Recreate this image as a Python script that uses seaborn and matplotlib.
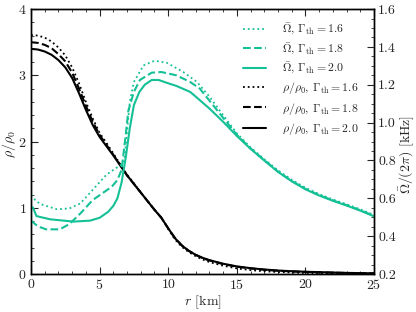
import numpy as np
import pandas as pd
import matplotlib
matplotlib.use("Agg")
import matplotlib.pyplot as plt
from matplotlib.ticker import MultipleLocator
import seaborn as sns

# ---------------- data ----------------
# density profiles rho/rho0 (left axis)
r_rho = [0, 0.5, 1, 1.5, 2, 2.5, 3, 3.5, 4, 4.5, 5, 5.5, 6, 6.5, 7, 7.5, 8, 8.5, 9,
         9.5, 10, 10.5, 11, 11.5, 12, 12.5, 13, 14, 15, 16, 17, 18, 19, 20, 21, 22,
         23, 24, 25]
rho_20 = [3.40, 3.39, 3.36, 3.31, 3.23, 3.12, 2.96, 2.73, 2.48, 2.25, 2.07, 1.93,
          1.79, 1.64, 1.49, 1.36, 1.23, 1.10, 0.97, 0.85, 0.69, 0.54, 0.43, 0.35,
          0.29, 0.245, 0.21, 0.155, 0.115, 0.088, 0.068, 0.052, 0.042, 0.034,
          0.028, 0.022, 0.017, 0.013, 0.010]
rho_18 = [3.50, 3.49, 3.46, 3.41, 3.32, 3.21, 3.04, 2.80, 2.54, 2.30, 2.10, 1.95,
          1.80, 1.65, 1.49, 1.36, 1.23, 1.10, 0.97, 0.85, 0.69, 0.54, 0.43, 0.35,
          0.29, 0.24, 0.205, 0.15, 0.11, 0.084, 0.064, 0.049, 0.039, 0.031,
          0.025, 0.02, 0.015, 0.012, 0.009]
rho_16 = [3.61, 3.60, 3.57, 3.51, 3.42, 3.30, 3.12, 2.88, 2.60, 2.35, 2.13, 1.98,
          1.82, 1.66, 1.50, 1.37, 1.23, 1.10, 0.97, 0.85, 0.68, 0.52, 0.41, 0.33,
          0.27, 0.22, 0.18, 0.125, 0.085, 0.058, 0.042, 0.03, 0.022, 0.016,
          0.012, 0.01, 0.008, 0.007, 0.006]

# angular velocity profiles Omega/(2 pi) in kHz (right axis)
r_om20 = [0, 0.15, 0.4, 1.4, 3.1, 4.3, 5.0, 5.63, 6.0, 6.3, 6.6, 6.9, 7.2, 7.5, 7.9,
          8.3, 8.8, 9.3, 10, 10.6, 11.6, 12, 13, 14, 15, 16, 17, 18, 19, 20, 21,
          22, 23, 24, 25]
om_20 = [0.557, 0.55, 0.506, 0.489, 0.477, 0.482, 0.497, 0.529, 0.56, 0.60, 0.683,
         0.8125, 0.97, 1.0925, 1.1625, 1.201, 1.2255, 1.2255, 1.208, 1.194, 1.1625,
         1.138, 1.075, 1.005, 0.93, 0.862, 0.80, 0.74, 0.69, 0.648, 0.615,
         0.587, 0.562, 0.535, 0.505]
r_om18 = [0, 0.5, 1.1, 2.1, 2.8, 3.6, 4.5, 5.9, 6.3, 6.6, 6.85, 7.1, 7.5, 7.94, 8.8,
          9.5, 10.6, 11.6, 12.3, 13, 14, 15, 16, 17, 18, 19, 20, 21, 22, 23, 24, 25]
om_18 = [0.482, 0.452, 0.436, 0.436, 0.464, 0.52, 0.591, 0.662, 0.697, 0.75, 0.90,
         1.0645, 1.1625, 1.2255, 1.264, 1.2675, 1.25, 1.215, 1.18, 1.117, 1.026,
         0.936, 0.864, 0.802, 0.742, 0.692, 0.65, 0.617, 0.589, 0.564, 0.537, 0.507]
r_om16 = [0, 0.3, 0.66, 1.9, 2.8, 3.6, 4.8, 5.5, 6.0, 6.5, 6.8, 7.0, 7.2, 7.5, 8.2,
          9.0, 9.9, 11.1, 12.1, 13, 14, 15, 16, 17, 18, 19, 20, 21, 22, 23, 24, 25]
om_16 = [0.6165, 0.592, 0.57, 0.542, 0.5465, 0.573, 0.669, 0.725, 0.75, 0.774,
         0.795, 0.9525, 1.11, 1.215, 1.3025, 1.327, 1.3165, 1.2675, 1.215, 1.138,
         1.04, 0.944, 0.869, 0.807, 0.748, 0.698, 0.656, 0.622, 0.594, 0.569,
         0.542, 0.512]

gammas = ["1.6", "1.8", "2.0"]
xticks = [0, 5, 10, 15, 20, 25]
yticks_left = [0, 1, 2, 3, 4]
yticks_right = [0.2, 0.4, 0.6, 0.8, 1.0, 1.2, 1.4, 1.6]

# ---------------- style ----------------
sns.set_style("ticks")
plt.rcParams["font.family"] = ["cmr10", "DejaVu Serif"]
plt.rcParams["mathtext.fontset"] = "cm"
plt.rcParams["axes.formatter.use_mathtext"] = True
plt.rcParams["axes.unicode_minus"] = False

green = "#15c096"

fig = plt.figure(figsize=(4.16, 3.12), dpi=100)
ax = fig.add_axes([0.0745, 0.1218, 0.8245, 0.849])
ax2 = ax.twinx()

om_sets = [(r_om16, om_16, ":"), (r_om18, om_18, "--"), (r_om20, om_20, "-")]
rho_sets = [(r_rho, rho_16, ":"), (r_rho, rho_18, "--"), (r_rho, rho_20, "-")]

handles = []
labels = []
for (rr, vv, ls), g in zip(om_sets, gammas):
    df = pd.DataFrame({"r": rr, "v": vv})
    sns.lineplot(data=df, x="r", y="v", ax=ax2, color=green, linestyle=ls,
                 lw=1.3 if ls == ":" else 1.5, sort=False, legend=False)
    handles.append(ax2.lines[-1])
    labels.append(r"$\bar{\Omega}$, $\Gamma_{\mathrm{th}}=" + g + "$")
for (rr, vv, ls), g in zip(rho_sets, gammas):
    df = pd.DataFrame({"r": rr, "v": vv})
    sns.lineplot(data=df, x="r", y="v", ax=ax, color="black", linestyle=ls,
                 lw=1.3 if ls == ":" else 1.5, sort=False, legend=False)
    handles.append(ax.lines[-1])
    labels.append(r"$\rho/\rho_0$, $\Gamma_{\mathrm{th}}=" + g + "$")

ax.set_xlim(0, 25)
ax.set_ylim(0, 4)
ax2.set_ylim(0.2, 1.6)
ax.set_xticks(xticks)
ax.set_yticks(yticks_left)
ax2.set_yticks(yticks_right)
ax2.set_yticklabels([f"{v:.1f}" for v in yticks_right])
ax.xaxis.set_minor_locator(MultipleLocator(1))
ax.yaxis.set_minor_locator(MultipleLocator(0.2))
ax2.yaxis.set_minor_locator(MultipleLocator(0.05))

ax.tick_params(axis="x", which="both", direction="in", top=True, bottom=True,
               labelsize=10, pad=3)
ax.tick_params(axis="y", which="both", direction="in", left=True, right=False,
               labelsize=10, pad=3)
ax2.tick_params(axis="y", which="both", direction="in", left=False, right=True,
                labelsize=10, pad=3)
for a in (ax, ax2):
    a.tick_params(which="major", length=5, width=0.8)
    a.tick_params(which="minor", length=2.5, width=0.6)
    for s in a.spines.values():
        s.set_linewidth(1.0)
        s.set_color("black")

ax.set_xlabel(r"$r$ [km]", fontsize=10)
ax.xaxis.set_label_coords(0.5, -0.075)
ax.set_ylabel(r"$\rho/\rho_0$", fontsize=10)
ax.yaxis.set_label_coords(-0.038, 0.49)
ax2.set_ylabel(r"$\bar{\Omega}/(2\pi)$ [kHz]", fontsize=10)
ax2.yaxis.set_label_coords(1.068, 0.45)

leg = ax2.legend(handles, labels, loc="upper right", frameon=False, fontsize=8.5,
                 handlelength=2.0, handletextpad=1.3, labelspacing=0.36,
                 bbox_to_anchor=(0.975, 0.978), borderaxespad=0.2)

fig.savefig("out.png", dpi=100)
